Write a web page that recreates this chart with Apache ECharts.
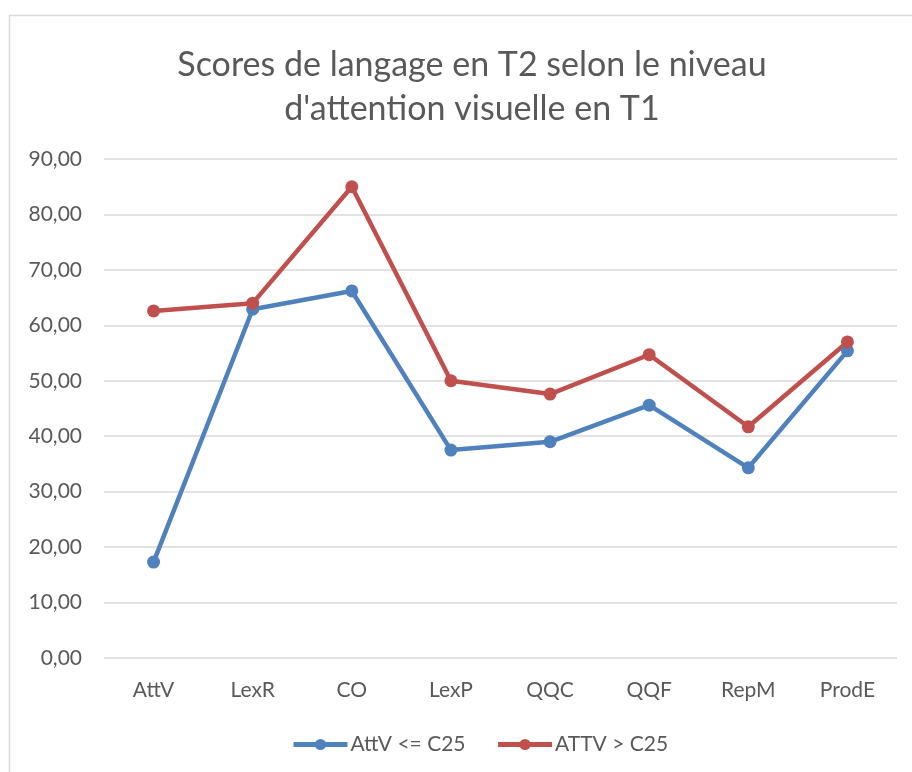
<!DOCTYPE html>
<html>
<head>
<meta charset="utf-8">
<script src="https://cdn.jsdelivr.net/npm/echarts@6/dist/echarts.min.js"></script>
<style>
  html, body { margin: 0; padding: 0; background: #fff; }
  #main { width: 912px; height: 772px; }
</style>
</head>
<body>
<div id="main"></div>
<script>
// categories and values
var categories = ['AttV', 'LexR', 'CO', 'LexP', 'QQC', 'QQF', 'RepM', 'ProdE'];
var lowAtt = [17.3, 62.9, 66.2, 37.5, 39.0, 45.6, 34.3, 55.4];
var highAtt = [62.6, 64.0, 85.0, 50.0, 47.6, 54.7, 41.7, 57.0];
var seriesNames = ['AttV <= C25', 'ATTV > C25'];

var font = 'Lato, "Open Sans", sans-serif';
var chart = echarts.init(document.getElementById('main'), null, {renderer: 'canvas'});

chart.setOption({
    animation: false,
    color: ['#4F81BD', '#C0504D'],
    graphic: [{
        type: 'rect',
        shape: {x: 9.5, y: 15.5, width: 1000, height: 1000},
        style: {fill: null, stroke: '#d9d9d9', lineWidth: 1.5}
    }],
    title: {
        text: 'Scores de langage en T2 selon le niveau\nd\'attention visuelle en T1',
        left: 467,
        top: 38,
        textAlign: 'center',
        textStyle: {
            fontFamily: font,
            fontSize: 34,
            fontWeight: 'normal',
            color: '#595959',
            lineHeight: 44
        }
    },
    legend: {
        data: seriesNames,
        top: 729,
        left: 286,
        itemWidth: 54,
        itemHeight: 14,
        itemGap: 30,
        lineStyle: {width: 5},
        textStyle: {fontFamily: font, fontSize: 21, color: '#595959', padding: [0, 0, 0, -2]}
    },
    grid: {left: 104, right: 15, top: 159, bottom: 114},
    xAxis: {
        type: 'category',
        data: categories,
        axisLine: {show: false},
        axisTick: {show: false},
        axisLabel: {fontFamily: font, fontSize: 21, color: '#595959', margin: 22}
    },
    yAxis: {
        type: 'value',
        min: 0,
        max: 90,
        interval: 10,
        axisLine: {show: false},
        axisTick: {show: false},
        splitLine: {lineStyle: {color: '#d9d9d9', width: 1.5}},
        axisLabel: {
            fontFamily: font, fontSize: 21, color: '#595959', margin: 22,
            formatter: function (v) { return v.toFixed(2).replace('.', ','); }
        }
    },
    series: [{
        name: seriesNames[0],
        type: 'line',
        data: lowAtt,
        symbol: 'circle',
        symbolSize: 13,
        lineStyle: {width: 4.5}
    }, {
        name: seriesNames[1],
        type: 'line',
        data: highAtt,
        symbol: 'circle',
        symbolSize: 13,
        lineStyle: {width: 4.5}
    }]
});
</script>
</body>
</html>
